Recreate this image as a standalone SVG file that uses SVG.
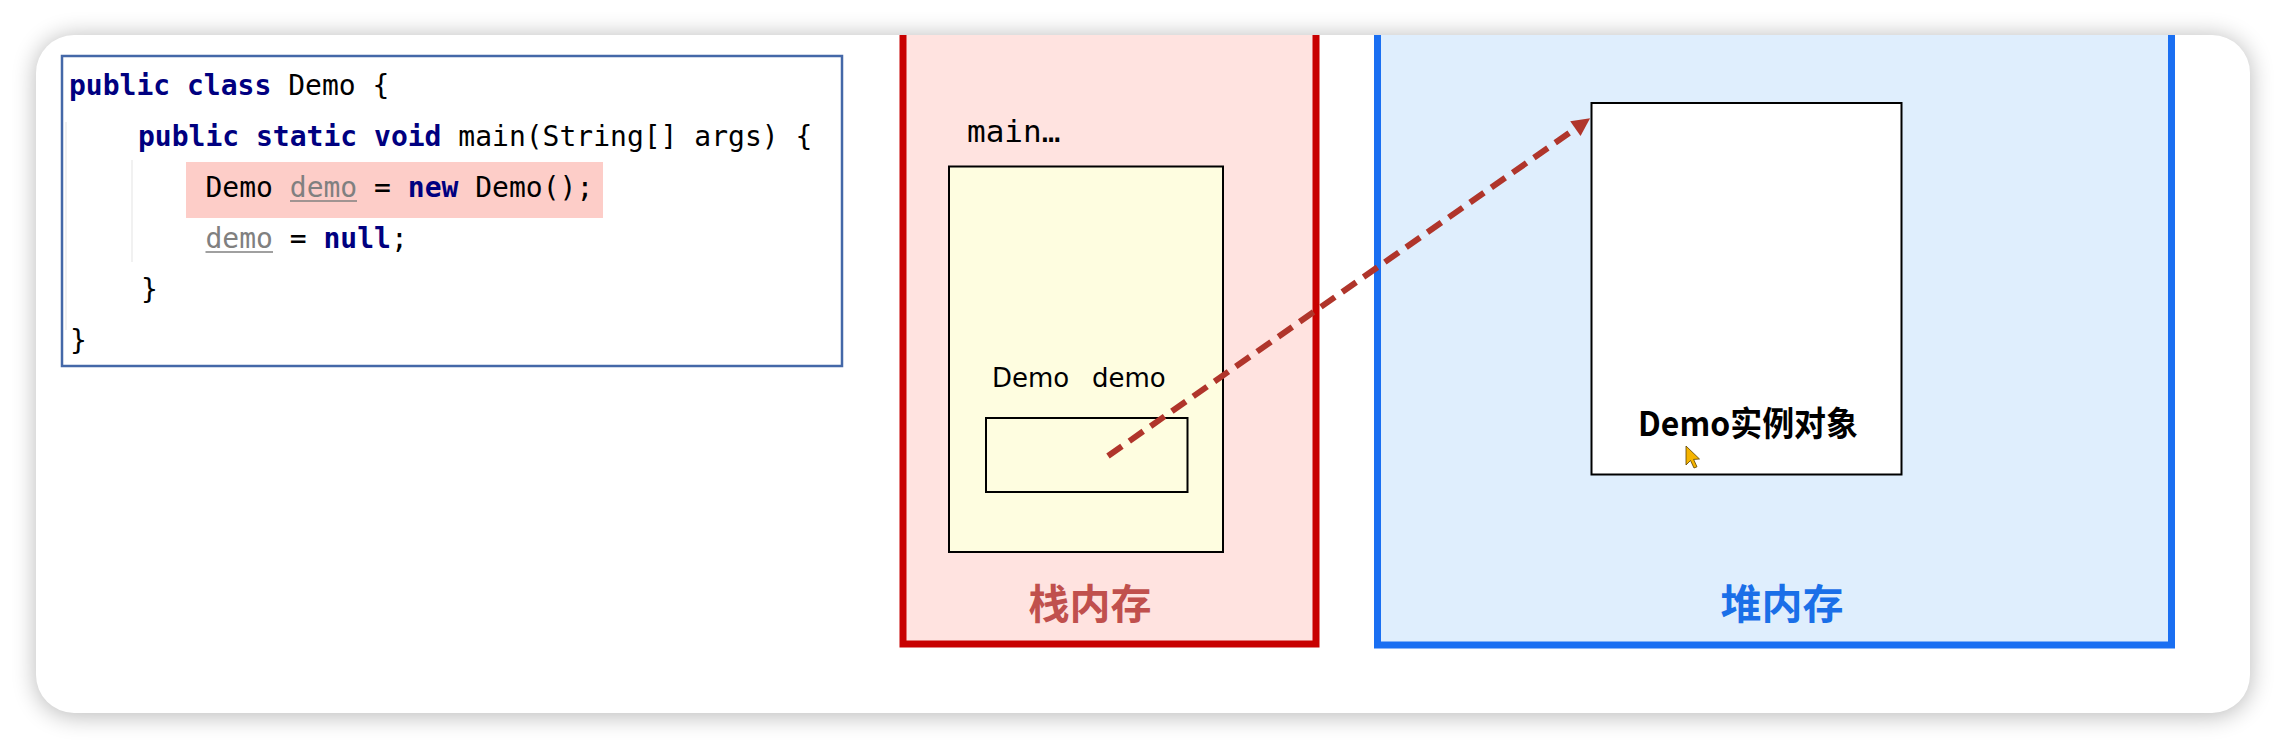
<svg xmlns="http://www.w3.org/2000/svg" width="2286" height="750" viewBox="0 0 2286 750">
<style>
.code{font-family:"DejaVu Sans Mono","Liberation Mono",monospace;font-size:28px;fill:#000}
.kw{fill:#000080;font-weight:bold}
.unused{fill:#808080}
.box{stroke:#000;stroke-width:2}
.label{font-family:"Noto Sans CJK SC","Noto Sans",sans-serif;font-weight:bold;font-size:41px;text-anchor:middle}
</style>
<defs>
<filter id="shadow" x="-10%" y="-20%" width="120%" height="140%"><feGaussianBlur stdDeviation="12"/></filter>
<clipPath id="cardClip"><rect x="36" y="35" width="2214" height="678" rx="38"/></clipPath>
<marker id="arrowhead" viewBox="0 0 10 10" refX="4.5" refY="5" markerWidth="22" markerHeight="18" markerUnits="userSpaceOnUse" orient="auto"><path d="M0,0 L10,5 L0,10 z" fill="#b0352b"/></marker>
</defs>
<rect width="2286" height="750" fill="#fff"/>
<rect x="36" y="36" width="2214" height="680" rx="38" fill="#000" opacity="0.28" filter="url(#shadow)"/>
<rect x="36" y="35" width="2214" height="678" rx="38" fill="#fff"/>
<g clip-path="url(#cardClip)">
<g id="code">
<rect x="62" y="56" width="780" height="310" fill="#fff" stroke="#4468a8" stroke-width="2.5"/>
<line x1="66" y1="122" x2="66" y2="330" stroke="#ececec" stroke-width="1.5"/>
<line x1="132" y1="160" x2="132" y2="262" stroke="#ececec" stroke-width="1.5"/>
<rect x="186" y="162" width="417" height="56" fill="#fdcdc8"/>
<text class="code" x="69" y="95" xml:space="preserve"><tspan class="kw">public</tspan> <tspan class="kw">class</tspan> Demo {</text>
<text class="code" x="138" y="146" xml:space="preserve"><tspan class="kw">public</tspan> <tspan class="kw">static</tspan> <tspan class="kw">void</tspan> main(String[] args) {</text>
<text class="code" x="205.5" y="197" xml:space="preserve">Demo <tspan class="unused">demo</tspan> = <tspan class="kw">new</tspan> Demo();</text>
<text class="code" x="205.5" y="248" xml:space="preserve"><tspan class="unused">demo</tspan> = <tspan class="kw">null</tspan>;</text>
<line x1="290" y1="201" x2="357" y2="201" stroke="#808080" stroke-width="1.5"/>
<line x1="205.5" y1="252" x2="273" y2="252" stroke="#808080" stroke-width="1.5"/>
<text class="code" x="141" y="299">}</text>
<text class="code" x="70" y="350">}</text>
</g>
<g id="stack">
<rect x="903" y="-10" width="413" height="654" fill="#ffe3e0" stroke="#c80000" stroke-width="7"/>
<text x="967" y="142" font-family="'DejaVu Sans Mono',monospace" font-size="31" fill="#000">main…</text>
<rect class="box" x="949" y="166.5" width="274" height="385.5" fill="#fefde0"/>
<text font-family="'DejaVu Sans','Liberation Sans',sans-serif" font-size="26" fill="#000" y="387"><tspan x="992">Demo</tspan><tspan x="1092">demo</tspan></text>
<rect class="box" x="986" y="418" width="201.5" height="74" fill="none"/>
<text class="label" x="1090" y="619" fill="#c0504d">栈内存</text>
</g>
<g id="heap">
<rect x="1377.5" y="-10" width="794" height="655" fill="#dfeefd" stroke="#1a6ff2" stroke-width="7"/>
<g id="object">
<rect class="box" x="1591.5" y="103" width="310" height="371.5" fill="#fff"/>
<text x="1638" y="436" font-family="'Noto Sans CJK SC','Noto Sans',sans-serif" font-weight="bold" font-size="34" fill="#000" textLength="220" lengthAdjust="spacingAndGlyphs">Demo实例对象</text>
</g>
<text class="label" x="1782" y="619" fill="#1a6fe8">堆内存</text>
<path d="M1686,446 L1686,465 L1690.5,460.5 L1694,468 L1697,466.8 L1693.6,459.4 L1699.5,459 Z" fill="#f5b400" stroke="#5a4000" stroke-width="0.8"/>
</g>
<g id="connectors">
<line x1="1108" y1="456" x2="1582" y2="124" stroke="#b0352b" stroke-width="6" stroke-dasharray="17 9" marker-end="url(#arrowhead)"/>
</g>
</g>
</svg>
